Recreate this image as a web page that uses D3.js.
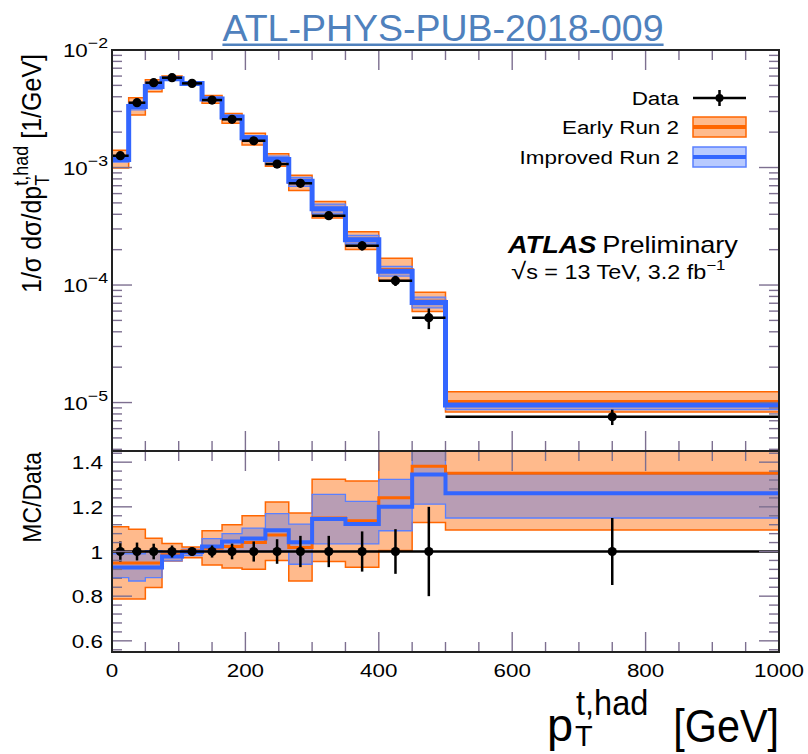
<!DOCTYPE html>
<html><head><meta charset="utf-8">
<script src="https://cdn.jsdelivr.net/npm/d3@7"></script>
<style>body{margin:0;background:#fff;} text{font-family:"Liberation Sans",Arial,Helvetica,sans-serif;fill:#000;}</style>
</head><body><svg id="c" width="808" height="754"></svg>
<script>
// ---------------- data ----------------
const binEdges = [0,25,50,75,105,135,165,195,230,265,300,350,400,450,500,1000];
const dataValues = [1.26e-3,3.56e-3,5.27e-3,5.81e-3,5.2e-3,3.75e-3,2.57e-3,1.69e-3,1.07e-3,7.34e-4,3.89e-4,2.16e-4,1.09e-4,5.27e-5,7.57e-6];
const dataRelErr = [0.045,0.04,0.035,0.027,0.018,0.027,0.035,0.045,0.055,0.07,0.07,0.09,0.1,0.2,0.15];
const earlyRatio = [0.948,0.948,0.948,0.985,1.003,1.015,1.022,1.04,1.074,1.018,1.15,1.138,1.241,1.382,1.35];
const earlyLow   = [0.787,0.787,0.839,0.957,0.972,0.94,0.926,0.92,0.96,0.868,0.955,0.93,1.004,1.13,1.096];
const earlyHigh  = [1.111,1.10,1.059,1.036,1.02,1.093,1.12,1.16,1.222,1.172,1.323,1.316,1.55,1.645,1.63];
const improvedRatio = [0.928,0.928,0.928,0.978,0.998,1.022,1.045,1.058,1.095,1.041,1.145,1.123,1.2,1.345,1.261];
const improvedLow   = [0.883,0.868,0.883,0.958,0.982,1.002,1.0,1.0,1.0,0.943,1.034,1.034,1.093,1.212,1.15];
const improvedHigh  = [0.99,0.99,1.004,1.0,1.01,1.058,1.08,1.105,1.17,1.123,1.256,1.224,1.323,1.5,1.345];
const xTickLabels = [0,200,400,600,800,1000];
const logTickExponents = [-2,-3,-4,-5];
const ratioTickLabels = [0.6,0.8,1,1.2,1.4];
const legendLabels = ["Data","Early Run 2","Improved Run 2"];

// ---------------- layout ----------------
const L = 112, R = 779, mainTop = 50, mainBot = 451, ratioTop = 451, ratioBot = 652;
const SX = 1.18;
const ORANGE = "#ff6600", BLUE = "#3366ff";
const ORANGE_FILL = "rgba(255,102,0,0.45)", BLUE_FILL = "rgba(51,102,255,0.35)";
const TICK = "#7d6f90";

const svg = d3.select("#c");
const x = d3.scaleLinear().domain([0,1000]).range([L,R]);
const y = d3.scaleLog().domain([3.87e-6,1e-2]).range([mainBot,mainTop]);
const yr = d3.scaleLinear().domain([0.55,1.45]).range([ratioBot,ratioTop]);

const defs = svg.append("defs");
defs.append("clipPath").attr("id","cm").append("rect").attr("x",L).attr("y",mainTop).attr("width",R-L).attr("height",mainBot-mainTop);
defs.append("clipPath").attr("id","cr").append("rect").attr("x",L).attr("y",ratioTop).attr("width",R-L).attr("height",ratioBot-ratioTop);

const nb = dataValues.length;
function stepPts(lo, hi) {
  const p = [];
  for (let i=0;i<nb;i++){ p.push({x:binEdges[i],lo:lo[i],hi:hi[i]}); p.push({x:binEdges[i+1],lo:lo[i],hi:hi[i]}); }
  return p;
}
function linePts(v) {
  const p = [];
  for (let i=0;i<nb;i++){ p.push({x:binEdges[i],v:v[i]}); p.push({x:binEdges[i+1],v:v[i]}); }
  return p;
}

function drawPanel(g, ys, scaleVals, isRatio) {
  const area = d3.area().x(d=>x(d.x)).y0(d=>ys(d.lo)).y1(d=>ys(d.hi));
  const line = d3.line().x(d=>x(d.x)).y(d=>ys(d.v));
  const f = (arr) => arr.map((r,i)=> r*scaleVals[i]);
  g.append("path").attr("d", area(stepPts(f(earlyLow), f(earlyHigh))))
    .attr("fill", ORANGE_FILL).attr("stroke", ORANGE).attr("stroke-width",1.5);
  g.append("path").attr("d", area(stepPts(f(improvedLow), f(improvedHigh))))
    .attr("fill", BLUE_FILL).attr("stroke", "#5a80ff").attr("stroke-width",1.3);
  g.append("path").attr("d", line(linePts(f(earlyRatio))))
    .attr("fill","none").attr("stroke",ORANGE).attr("stroke-width",3);
  g.append("path").attr("d", line(linePts(f(improvedRatio))))
    .attr("fill","none").attr("stroke",BLUE).attr("stroke-width", isRatio?4:5);
  const dv = isRatio ? dataValues.map(()=>1) : dataValues;
  if (isRatio) {
    g.append("line").attr("x1",x(0)).attr("x2",x(1000)).attr("y1",ys(1)).attr("y2",ys(1)).attr("stroke","#000").attr("stroke-width",2.5);
  }
  for (let i=0;i<nb;i++){
    const cx = x((binEdges[i]+binEdges[i+1])/2), v = dv[i];
    if (!isRatio) g.append("line").attr("x1",x(binEdges[i])).attr("x2",x(binEdges[i+1])).attr("y1",ys(v)).attr("y2",ys(v)).attr("stroke","#000").attr("stroke-width",2.5);
    g.append("line").attr("x1",cx).attr("x2",cx).attr("y1",ys(v*(1+dataRelErr[i]))).attr("y2",ys(v*(1-dataRelErr[i]))).attr("stroke","#000").attr("stroke-width",2.5);
    g.append("circle").attr("cx",cx).attr("cy",ys(v)).attr("r",4.6).attr("fill","#000");
  }
}

const gm = svg.append("g").attr("clip-path","url(#cm)");
drawPanel(gm, y, dataValues, false);
const gr = svg.append("g").attr("clip-path","url(#cr)");
drawPanel(gr, yr, dataValues.map(()=>1), true);

// ---------------- ticks ----------------
const tg = svg.append("g").attr("stroke",TICK).attr("stroke-width",1.4);
function hTick(yy, len) {
  tg.append("line").attr("x1",L).attr("x2",L+len).attr("y1",yy).attr("y2",yy);
  tg.append("line").attr("x1",R).attr("x2",R-len).attr("y1",yy).attr("y2",yy);
}
function vTick(xx, top, bot, len) {
  tg.append("line").attr("x1",xx).attr("x2",xx).attr("y1",bot).attr("y2",bot-len);
  tg.append("line").attr("x1",xx).attr("x2",xx).attr("y1",top).attr("y2",top+len);
}
d3.range(0,1001,50).forEach(v => {
  const maj = v % 200 === 0;
  vTick(x(v), mainTop, mainBot, maj?20:10);
  vTick(x(v), ratioTop, ratioBot, maj?20:10);
});
for (let e=-6;e<=-2;e++){
  for (let m=1;m<=9;m++){
    const v = m*Math.pow(10,e);
    if (v < 3.87e-6 || v > 1.0001e-2) continue;
    hTick(y(v), m===1?20:10);
  }
}
d3.range(14,37).forEach(i => {
  const v = i*0.04;
  const maj = Math.abs(v/0.2 - Math.round(v/0.2)) < 1e-6;
  hTick(yr(v), maj?20:10);
});

// frames
svg.append("rect").attr("x",L).attr("y",mainTop).attr("width",R-L).attr("height",mainBot-mainTop).attr("fill","none").attr("stroke","#222").attr("stroke-width",2);
svg.append("rect").attr("x",L).attr("y",ratioTop).attr("width",R-L).attr("height",ratioBot-ratioTop).attr("fill","none").attr("stroke","#222").attr("stroke-width",2);

// ---------------- text ----------------
function stxt(px, py, size, anchor, sx) {
  return svg.append("text").attr("transform",`translate(${px},${py}) scale(${sx||SX},1)`).attr("font-size",size).attr("text-anchor",anchor);
}
xTickLabels.forEach(v => stxt(x(v), 677, 19, "middle").text(v));
ratioTickLabels.forEach(v => stxt(103, yr(v)+7, 19, "end").text(v));
logTickExponents.forEach(e => {
  const t = stxt(108, y(Math.pow(10,e))+7, 19, "end");
  t.append("tspan").text("10");
  t.append("tspan").attr("font-size",15).attr("dy",-9).text("\u2212"+Math.abs(e));
});

// y titles
const yt = svg.append("text").attr("transform",`translate(41,54) scale(1.12,1) rotate(-90)`).attr("font-size",25).attr("text-anchor","end");
yt.append("tspan").text("1/\u03c3 d\u03c3/dp");
yt.append("tspan").attr("font-size",18).attr("dy",7).text("T");
yt.append("tspan").attr("font-size",18).attr("dx",-11).attr("dy",-19).text("t,had");
yt.append("tspan").attr("dy",12).text(" [1/GeV]");
svg.append("text").attr("transform",`translate(41,452) scale(1.12,1) rotate(-90)`).attr("font-size",23).attr("text-anchor","end").text("MC/Data");

// x title
stxt(779, 742, 47, "end", 0.88).text("[GeV]");
svg.append("text").attr("x",547).attr("y",741).attr("font-size",47).text("p");
stxt(576, 715, 35, "start", 0.93).text("t,had");
svg.append("text").attr("x",575).attr("y",746).attr("font-size",29).text("T");

// header
const ttl = svg.append("text").attr("x",443).attr("y",41).attr("font-size",37.5).attr("text-anchor","middle").style("fill","#4f81bd").text("ATL-PHYS-PUB-2018-009");
const tw = ttl.node().getComputedTextLength();
svg.append("rect").attr("x",443-tw/2).attr("y",43.5).attr("width",tw).attr("height",2.5).attr("fill","#4f81bd");

// legend
const lx0 = 693, lx1 = 746;
stxt(679, 105, 19, "end").text(legendLabels[0]);
stxt(679, 134, 19, "end").text(legendLabels[1]);
stxt(679, 164, 19, "end").text(legendLabels[2]);
svg.append("line").attr("x1",lx0).attr("x2",lx1).attr("y1",98).attr("y2",98).attr("stroke","#000").attr("stroke-width",2.5);
svg.append("line").attr("x1",(lx0+lx1)/2).attr("x2",(lx0+lx1)/2).attr("y1",90).attr("y2",106).attr("stroke","#000").attr("stroke-width",2.5);
svg.append("circle").attr("cx",(lx0+lx1)/2).attr("cy",98).attr("r",4).attr("fill","#000");
svg.append("rect").attr("x",lx0).attr("y",117).attr("width",lx1-lx0).attr("height",20).attr("fill",ORANGE_FILL).attr("stroke",ORANGE).attr("stroke-width",1.5);
svg.append("line").attr("x1",lx0).attr("x2",lx1).attr("y1",127).attr("y2",127).attr("stroke",ORANGE).attr("stroke-width",4);
svg.append("rect").attr("x",lx0).attr("y",147).attr("width",lx1-lx0).attr("height",20).attr("fill",BLUE_FILL).attr("stroke","#5a80ff").attr("stroke-width",1.5);
svg.append("line").attr("x1",lx0).attr("x2",lx1).attr("y1",157).attr("y2",157).attr("stroke",BLUE).attr("stroke-width",4);

// ATLAS label
const at = stxt(508, 253, 23, "start");
at.append("tspan").attr("font-weight","bold").attr("font-style","italic").text("ATLAS");
at.append("tspan").attr("dx",5).text("Preliminary");
const en = stxt(511, 279, 19.5, "start", 1.2);
en.append("tspan").attr("font-size",23).text("\u221a");
en.append("tspan").text("s = 13 TeV, 3.2 fb");
en.append("tspan").attr("font-size",14).attr("dy",-9).text("\u22121");
</script></body></html>
